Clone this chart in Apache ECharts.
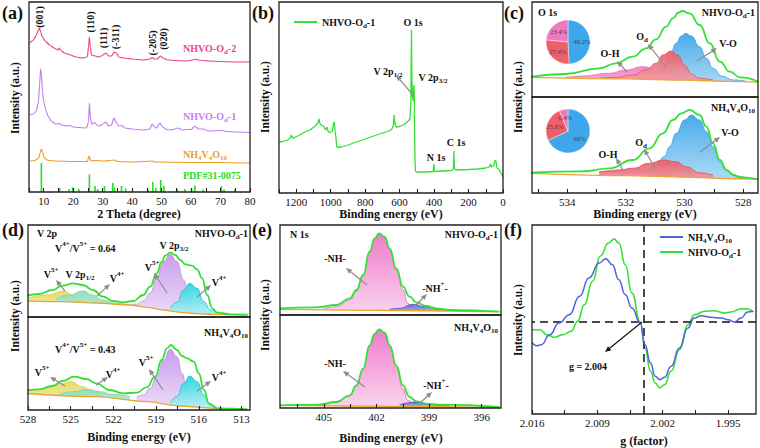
<!DOCTYPE html>
<html><head><meta charset="utf-8">
<script src="https://cdn.jsdelivr.net/npm/echarts@6/dist/echarts.min.js"></script>
<style>html,body{margin:0;padding:0;background:#fff}#c{width:760px;height:448px}</style>
</head><body><div id="c"></div>
<script>
// ---------------- (a) XRD ----------------
const xrdOd2 = [[5.3,149],[6.5,152],[7.5,157],[8.2,162],[8.5,164],[9.0,160],[9.5,155],[10.5,151],[12,147],[13.5,144],[14.8,142],[15.2,144],[15.6,142],[17,139],[19,137],[21,135],[23,134],[24.8,135],[25.3,148],[25.5,155],[25.8,145],[26.2,137],[27.5,136],[28.5,135],[29.5,136],[30.5,138],[31.2,139],[32,136],[33,136],[34,140],[34.6,139],[35.5,135],[37,134],[40,133],[44,132],[46,133],[46.8,134.5],[47.5,133],[48.5,133],[49.6,136],[50.5,134],[52,132],[55,131.5],[58,131],[60,131.5],[61.3,133],[62.5,132],[66,131],[70,130.5],[75,130],[80,130]];
const xrdOd1 = [[5.3,77],[6.5,78],[7.5,81],[8.2,90],[8.6,108],[8.95,123],[9.2,118],[9.6,100],[10,90],[10.8,81],[11.5,76],[12.5,71],[14,68],[15.3,68.5],[16,67],[18,66],[18.7,66.5],[20,65],[22,64.5],[24.5,64],[25.2,70],[25.5,89],[25.8,75],[26.3,68],[27.3,69.5],[28,67],[29,66],[30.5,69],[31.1,70],[32,66],[33,67],[33.8,74],[34.5,70],[35.5,66],[36.5,66.5],[37.5,64],[40,63],[44,62],[46,63],[46.8,68],[47.5,65],[48.3,64],[49.4,69],[50.3,65],[52,62],[54,62.5],[55.5,64],[57,62],[58.5,62.5],[60,62.5],[61.3,66],[62.5,63],[64,63],[66,61],[70.5,61.5],[72,60.5],[76,60],[80,59.5]];
const xrdNH4 = [[5.3,31],[7,31.5],[8.3,34],[8.9,40],[9.2,43],[9.6,40],[10.2,34],[11.5,31.5],[14,31],[20,30.5],[24.8,30.5],[25.4,36],[26,31],[27.5,31.5],[30.5,31],[33.8,32],[35,30.5],[40,30],[46.8,31],[48,30],[60,29.5],[70,29.5],[80,29]];
const pdfSticks = [[9.2,29],[15.4,4],[18.6,3],[19.8,4.5],[21.9,3],[25.5,17.5],[27.4,6],[28.3,3],[30.6,6],[33.4,9],[34,4.5],[36.4,6],[37.8,3.5],[45.4,2.5],[47,10],[48,4],[49.7,12],[50.8,6],[55.4,2.5],[57.9,3],[60.2,3],[61.3,6.5],[64.1,2.5],[70.3,6],[71.2,2.5],[74.9,2.5]];
const aLabels = [10,20,30,40,50,60,70,80];
const aTicks = [5,10,15,20,25,30,35,40,45,50,55,60,65,70,75,80];
// ---------------- (b) survey ----------------
const survey = [[1300,51],[1280,51.5],[1250,53],[1235,55],[1228,58],[1222,55],[1210,55.5],[1180,58],[1150,61],[1120,63],[1090,67],[1075,70],[1068,74],[1062,69],[1050,67.5],[1040,67],[1030,63],[1022,66],[1016,62],[1008,60.5],[1000,61],[990,62],[983,70],[979,71],[975,62],[970,56],[965,46],[960,45.5],[940,46],[900,48],[850,51],[800,54],[750,57],[700,60],[660,62],[645,64],[636,68],[632,78],[628,70],[620,66],[600,66.5],[580,68],[565,69.5],[550,72],[540,74],[535,90],[531,163],[529,120],[526,95],[524,105],[522,92],[519,100],[517,108],[515,98],[513,60],[511,35],[508,22],[500,21],[450,21],[405,21.5],[401,29],[398,21.5],[350,22],[300,22.5],[288,24],[285,42],[282,25],[275,23],[200,23.5],[150,24],[100,25],[80,26],[72,29],[68,26],[55,27],[45,33],[41,32],[35,25],[25,24],[15,21],[5,18],[0,16]];
const bLabels = [1200,1000,800,600,400,200,0];
const bTicks = [1300,1200,1100,1000,900,800,700,600,500,400,300,200,100,0];
// ---------------- (c) O 1s ----------------
const o1sTopEnv = [[535.23,20.3],[534.06,23],[532.91,28.7],[532.34,33.7],[531.77,40.3],[531.31,48.7],[530.97,57.7],[530.63,70.3],[530.4,78.7],[530.2,84.5],[530.08,86],[529.83,83.7],[529.49,72],[529.14,53.7],[528.8,35.3],[528.46,25.3],[528.11,19.7],[527.49,15.3]];
const o1sTopBg = [[535.23,19.7],[532,18.2],[530,16.8],[528.5,15.7],[527.49,15]];
const o1sTopVO = [[531.31,18.7],[531.09,21],[530.74,30.3],[530.51,40.3],[530.29,53.7],[530.11,61],[529.97,63.7],[529.77,61],[529.49,50.3],[529.26,38.7],[529.03,28.7],[528.74,21],[528.34,17],[527.89,15.7]];
const o1sTopOd = [[532.91,18.7],[532.34,19.7],[531.77,22],[531.31,27],[530.97,33.7],[530.74,42],[530.46,46],[530.23,42],[530.0,32],[529.77,23],[529.49,18.7],[529.03,17]];
const o1sTopOH = [[534.06,19.7],[533.49,21],[532.57,23.7],[532.0,27],[531.43,30.3],[530.97,28.7],[530.63,25.3],[530.29,21],[529.94,17.7]];
const o1sBotEnv = [[535.23,20.3],[533.49,21.7],[532.57,24.7],[531.77,33],[531.2,44.7],[530.74,59.7],[530.4,73],[530.11,79.7],[529.83,83],[529.49,78],[529.26,66.3],[529.03,49.7],[528.8,33],[528.57,23],[528.34,18],[528.11,15.7],[527.49,13.7]];
const o1sBotBg = [[535.23,19.7],[532,17.4],[530,15.8],[528.5,14.5],[527.49,13.7]];
const o1sBotVO = [[531.77,20.3],[531.31,23],[530.97,28],[530.69,36.3],[530.51,46.3],[530.29,59.7],[530.0,73],[529.77,78],[529.49,73],[529.26,61.3],[529.03,46.3],[528.8,31.3],[528.57,22.3],[528.23,17],[527.89,15.3]];
const o1sBotOd = [[532.91,21],[532.34,22],[531.77,24.7],[531.2,29.7],[530.74,33],[530.29,31.3],[529.94,26.3],[529.49,20.3],[529.03,17.7]];
const o1sBotOH = [[532.91,21.3],[531.77,23.7],[530.97,22.3],[530.4,19.7]];
const pieNames = ['V-O','Od','O-H'];
const pieTop = [49.2,27.4,23.4];
const pieBot = [68,25.6,6.4];
const cLabels = [534,532,530,528];
const cTicks = [535,534,533,532,531,530,529,528];
// ---------------- (d) V 2p ----------------
const v2pTopEnv = [[528.28,20.3],[527.22,23],[526.28,27],[525.57,31.3],[524.86,33.7],[524.15,32],[523.44,27],[522.73,20.3],[522.02,16],[521.31,14.7],[520.61,16],[519.9,22],[519.42,30.3],[518.95,43.7],[518.6,55.3],[518.36,61.3],[518.01,64.3],[517.65,62],[517.3,57],[516.94,52.7],[516.47,51.3],[516.12,47.7],[515.76,38.7],[515.41,22],[515.05,8.7],[514.7,4.3],[513.76,2.7],[512.57,2.3]];
const v2pTopBg = [[528.28,16],[525.57,15.3],[523.2,14],[520.84,12],[519.66,9.7],[518.48,7],[517.3,4.7],[516.12,3.3],[514.94,2.7],[512.57,2]];
const v2pTopV5a = [[520.84,11.3],[520.37,12.7],[519.9,16],[519.42,23.7],[518.95,38.7],[518.48,55.3],[518.01,62.7],[517.53,55.3],[517.06,37],[516.71,22],[516.35,12.7],[515.88,7],[515.41,4.7]];
const v2pTopV4a = [[518.01,8.7],[517.53,14.7],[517.06,27],[516.64,33.7],[516.12,28.7],[515.64,15.3],[515.17,7],[514.7,3.7]];
const v2pTopV5b = [[527.93,19.3],[526.75,22],[525.45,26],[524.86,22],[524.39,17],[523.68,14.3]];
const v2pTopV4b = [[526.04,18],[525.09,22],[524.15,26],[523.44,22],[522.73,17],[521.79,13.7],[520.84,12]];
const v2pBotEnv = [[528.28,19.3],[527.22,20.7],[526.28,24],[525.57,29],[524.74,33.3],[523.91,31],[523.2,26.7],[522.26,20],[521.31,16.7],[520.37,17.3],[519.66,22.7],[519.07,33.3],[518.6,50],[518.24,61.7],[517.96,65],[517.53,60],[517.18,54],[516.83,51.7],[516.35,48.3],[516.0,36.7],[515.64,20],[515.29,6.7],[514.7,1.7],[512.57,0.7]];
const v2pBotBg = [[528.28,16.7],[523.2,13.3],[519.66,8.3],[517.3,4],[514.94,1.7],[512.57,0.7]];
const v2pBotV5a = [[520.37,13.3],[519.9,15],[519.42,21.7],[518.95,33.3],[518.48,50],[518.01,60.7],[517.53,53.3],[517.18,36.7],[516.83,20],[516.35,10],[515.88,6]];
const v2pBotV4a = [[518.01,7.3],[517.53,13.3],[517.06,26.7],[516.64,34],[516.12,28.3],[515.64,15],[515.17,5],[514.7,1.7]];
const v2pBotV5b = [[528.17,18.3],[527.22,20.7],[526.04,25],[524.98,28.3],[524.15,23.3],[523.44,18.3],[522.73,15]];
const v2pBotV4b = [[525.8,16],[524.86,18.3],[523.8,20.7],[522.97,18.3],[522.02,15.7],[520.84,13.3]];
const dLabels = [528,525,522,519,516,513];
const dTicks = [528,526.5,525,523.5,522,520.5,519,517.5,516,514.5,513];
// ---------------- (e) N 1s ----------------
const n1sTopEnv = [[407.5,6.7],[405.42,7.7],[404.28,10],[403.52,16.7],[403.14,25],[402.76,40],[402.39,63.3],[402.1,76.7],[401.85,81.7],[401.53,78.3],[401.25,66.7],[400.87,46.7],[400.49,28.3],[400.11,18.3],[399.73,12.7],[399.16,9],[398.6,6.7],[397.84,5],[395.0,3.3]];
const n1sTopBg = [[407.5,5.7],[401,4.5],[395,3.3]];
const n1sTopNH = [[405.04,6],[404.28,8.3],[403.52,15],[403.14,24],[402.76,39],[402.39,62.5],[402.1,76],[401.85,81],[401.53,77.5],[401.25,66],[400.87,45],[400.49,25],[400.21,11.7],[399.92,6.7],[399.54,5]];
const n1sTopNHp = [[401.25,5.7],[400.68,6.7],[399.92,10.7],[399.16,8.3],[398.41,5.7],[397.46,4.3]];
const n1sBotEnv = [[407.5,2.7],[405.42,3.3],[404.28,6],[403.52,12.7],[403.14,22.7],[402.76,39.3],[402.39,62.7],[402.1,74.3],[401.85,78.7],[401.53,75.3],[401.25,62.7],[400.87,42.7],[400.49,22.7],[400.11,11],[399.73,6.7],[399.16,4.3],[398.41,3.3],[395,1]];
const n1sBotBg = [[407.5,2.7],[401,1.7],[395,0.7]];
const n1sBotNH = [[405.04,2.8],[404.28,5.7],[403.52,12.3],[403.14,22.3],[402.76,39],[402.39,62.3],[402.1,74],[401.85,78.3],[401.53,75],[401.25,62.3],[400.87,41],[400.49,19.3],[400.21,7.7],[399.83,4.3],[399.54,3.3]];
const n1sBotNHp = [[400.68,3.3],[399.73,6],[398.79,3.3],[397.84,2]];
const eLabels = [405,402,399,396];
const eTicks = [406.5,405,403.5,402,400.5,399,397.5,396];
// ---------------- (f) EPR ----------------
const eprNH4 = [[2.016,71.7],[2.0155,68.3],[2.015,69.3],[2.0141,79.3],[2.0131,91],[2.012,99.3],[2.0109,117.7],[2.0099,136],[2.0088,151],[2.0081,155.3],[2.0074,149.3],[2.0067,134.3],[2.006,119.3],[2.0053,106],[2.0044,91],[2.0039,69.3],[2.0033,51],[2.0028,37.7],[2.0023,34.3],[2.0018,36.7],[2.0011,47.7],[2.0002,66],[1.9993,86],[1.9986,96],[1.9979,98.3],[1.9968,96.7],[1.9957,96],[1.995,94.3],[1.9943,92],[1.9936,96],[1.9929,102],[1.9923,102.7]];
const eprOd1 = [[2.016,84.3],[2.0152,84.3],[2.0143,78.7],[2.0136,76.7],[2.0127,79.3],[2.0118,82.7],[2.0111,92.7],[2.0104,109.3],[2.0095,132.7],[2.0087,157.7],[2.0078,171],[2.0072,175],[2.0067,171],[2.006,149.3],[2.0053,121],[2.0044,92],[2.0039,66],[2.0033,42.7],[2.0028,31],[2.0023,26],[2.0018,29.3],[2.0011,42.7],[2.0002,64.3],[1.9993,89.3],[1.9986,99.3],[1.9975,102.7],[1.9965,103.3],[1.9954,101],[1.9947,102],[1.9936,105.3],[1.9929,105],[1.9923,102]];
const gFactorMark = 2.004;
const zeroLevel = 92;
const fLabels = [2.016,2.009,2.002,1.995];
const fTicks = [2.016,2.0125,2.009,2.0055,2.002,1.9985,1.995];

// ---------------- build ----------------
const FONT = 'Liberation Serif';
const chart = echarts.init(document.getElementById('c'), null, {renderer:'svg'});
function grad(c1,c2){return new echarts.graphic.LinearGradient(0,0,0,1,[{offset:0,color:c1},{offset:1,color:c2}]);}

const grids = [
  {left:29,top:2,width:221,height:190},
  {left:279,top:2,width:224,height:191},
  {left:532,top:2,width:226,height:95},
  {left:532,top:97,width:226,height:96},
  {left:28,top:225,width:222,height:92},
  {left:28,top:317,width:222,height:93},
  {left:280,top:225,width:221,height:90},
  {left:280,top:315,width:221,height:93},
  {left:532,top:225,width:224,height:189}
].map(g=>Object.assign(g,{show:true,borderColor:'#222',borderWidth:1.3,backgroundColor:'rgba(0,0,0,0)',z:10,containLabel:false,outerBoundsMode:'none'}));
const yMax = [190,191,95,96,92,93,90,93,189];

function mkX(gi,min,max,inverse,labels,ticks,showLabels,fmt){
  return {type:'value',gridIndex:gi,min,max,inverse,z:10,splitLine:{show:false},axisLine:{show:false},
    axisTick:{show:!!ticks,inside:true,length:4,lineStyle:{color:'#222',width:1.1},customValues:ticks||undefined},
    axisLabel:{show:showLabels,customValues:labels,formatter:fmt||(v=>String(v)),fontFamily:FONT,fontSize:11,color:'#111',margin:3}};
}
const xAxes = [
  mkX(0,5,80,false,aLabels,aTicks,true),
  mkX(1,0,1300,true,bLabels,bTicks,true),
  mkX(2,527.5,535.2,true,cLabels,null,false),
  mkX(3,527.5,535.2,true,cLabels,cTicks,true),
  mkX(4,512.4,528,true,dLabels,null,false),
  mkX(5,512.4,528,true,dLabels,dTicks,true),
  mkX(6,394.9,407.5,true,eLabels,null,false),
  mkX(7,394.9,407.5,true,eLabels,eTicks,true),
  mkX(8,1.992,2.016,true,fLabels,fTicks,true,v=>v.toFixed(3))
];
const yAxes = yMax.map((m,i)=>({type:'value',gridIndex:i,min:0,max:m,show:false}));

const S = [];
function line(gi,data,color,width,z,smooth,name,extra){
  S.push(Object.assign({type:'line',name,xAxisIndex:gi,yAxisIndex:gi,data,symbol:'none',showSymbol:false,
    smooth:smooth,smoothMonotone:'x',lineStyle:{color,width},itemStyle:{color},z,silent:true,animation:false},extra||{}));
}
function area(gi,data,lc,c1,c2,z){
  S.push({type:'line',xAxisIndex:gi,yAxisIndex:gi,data,symbol:'none',showSymbol:false,smooth:0.5,smoothMonotone:'x',
    lineStyle:{color:lc,width:0.8},areaStyle:{color:grad(c1,c2),opacity:0.92,origin:'start'},z,silent:true,animation:false});
}
function mask(gi,data){
  S.push({type:'line',xAxisIndex:gi,yAxisIndex:gi,data,symbol:'none',showSymbol:false,smooth:0.3,smoothMonotone:'x',
    lineStyle:{color:'#eaa535',width:1.3},areaStyle:{color:'#ffffff',opacity:1,origin:'start'},z:6,silent:true,animation:false});
}
const GREEN = '#35e035';
// (a)
line(0,xrdOd2,'#e8448f',1.2,3,0.2);
line(0,xrdOd1,'#c27ff0',1.2,3,0.2);
line(0,xrdNH4,'#e8a024',1.2,3,0.2);
S.push({type:'bar',xAxisIndex:0,yAxisIndex:0,data:pdfSticks,barWidth:1.6,itemStyle:{color:'#22dd22'},z:3,silent:true,animation:false});
// (b)
line(1,survey,GREEN,1.3,3,false,'NHVO-Od-1 (b)');
// (c)
area(2,o1sTopVO,'#3a9ee0','#38a4ea','#bfe3f7',3);
area(2,o1sTopOH,'#ec6fb7','#f07cc2','#f8cde6',4);
area(2,o1sTopOd,'#e5525f','#ea5a66','#f6c3c6',5);
mask(2,o1sTopBg);
line(2,o1sTopEnv,GREEN,1.8,7,0.5);
area(3,o1sBotVO,'#3a9ee0','#38a4ea','#bfe3f7',3);
area(3,o1sBotOH,'#ec6fb7','#f07cc2','#f8cde6',4);
area(3,o1sBotOd,'#e5525f','#ea5a66','#f6c3c6',5);
mask(3,o1sBotBg);
line(3,o1sBotEnv,GREEN,1.8,7,0.5);
// (d)
area(4,v2pTopV5b,'#e0cf55','#e8d860','#f4ecb8',3);
area(4,v2pTopV4b,'#7fd3aa','#86dcb5','#d4f1e3',4);
area(4,v2pTopV5a,'#bb8fe3','#c596ea','#eadcf8',3);
area(4,v2pTopV4a,'#18c8d4','#1fd3de','#bdf1f4',4);
mask(4,v2pTopBg);
line(4,v2pTopEnv,GREEN,1.8,7,0.5);
area(5,v2pBotV5b,'#e0cf55','#e8d860','#f4ecb8',3);
area(5,v2pBotV4b,'#7fd3aa','#86dcb5','#d4f1e3',4);
area(5,v2pBotV5a,'#bb8fe3','#c596ea','#eadcf8',3);
area(5,v2pBotV4a,'#18c8d4','#1fd3de','#bdf1f4',4);
mask(5,v2pBotBg);
line(5,v2pBotEnv,GREEN,1.8,7,0.5);
// (e)
area(6,n1sTopNH,'#ea66c0','#ef70c8','#f9d2ec',3);
area(6,n1sTopNHp,'#4c5cc4','#5565cc','#c8cdf0',4);
mask(6,n1sTopBg);
line(6,n1sTopEnv,GREEN,1.8,7,0.5);
area(7,n1sBotNH,'#ea66c0','#ef70c8','#f9d2ec',3);
area(7,n1sBotNHp,'#4c5cc4','#5565cc','#c8cdf0',4);
mask(7,n1sBotBg);
line(7,n1sBotEnv,GREEN,1.8,7,0.5);
// (f)
line(8,eprOd1,GREEN,1.6,4,0.5,'NHVO-Od-1');
line(8,eprNH4,'#4f63dc',1.5,5,0.5,'NH4V4O10',{markLine:{silent:true,symbol:'none',animation:false,precision:4,label:{show:false},
  lineStyle:{color:'#111',type:[8,5],width:1.5},data:[{xAxis:gFactorMark},{yAxis:zeroLevel}]}});
// pies
const pieColors = ['#3ea6ea','#ee5f6a','#f07ac2'];
function pie(center,vals){
  S.push({type:'pie',center,radius:22,startAngle:90,clockwise:true,z:12,silent:true,animation:false,
    label:{show:true,position:'inside',formatter:'{c}%',fontSize:6.5,color:'#444',fontFamily:FONT},labelLine:{show:false},
    itemStyle:{borderColor:'#fff',borderWidth:0.4},
    data:vals.map((v,i)=>({value:v,name:pieNames[i],itemStyle:{color:pieColors[i]}}))});
}
pie([568,42],pieTop);
pie([568,131],pieBot);

// ---------------- annotations ----------------
function rt(str,size,color,weight){
  const txt = str.replace(/([_^])\{([^}]*)\}|([^_^]+)/g,(m,t,inner,plain)=> plain!==undefined?'{n|'+plain+'}':(t==='_'?'{s|'+inner+'}':'{u|'+inner+'}'));
  const b = {fontFamily:FONT,fontWeight:weight||'bold',fill:color};
  const sm = Math.round(size*0.68);
  return {text:txt,rich:{
    n:Object.assign({fontSize:size,lineHeight:size+5},b),
    s:Object.assign({fontSize:sm,verticalAlign:'bottom'},b),
    u:Object.assign({fontSize:sm,verticalAlign:'top'},b)}};
}
const G = [];
function T(x,y,str,o){o=o||{};
  const r = rt(str,o.size||10,o.color||'#111',o.weight);
  G.push({type:'text',x,y,rotation:o.rot||0,z:100,silent:true,style:Object.assign(r,{align:o.align||'center',verticalAlign:'middle'})});
}
function A(x1,y1,x2,y2,color){color=color||'#8c8c8c';
  const a=Math.atan2(y2-y1,x2-x1),L=6,W=2.6,bx=x2-L*Math.cos(a),by=y2-L*Math.sin(a),px=-Math.sin(a),py=Math.cos(a);
  G.push({type:'line',z:100,silent:true,shape:{x1,y1,x2:bx,y2:by},style:{stroke:color,lineWidth:1.2}});
  G.push({type:'polygon',z:100,silent:true,shape:{points:[[x2,y2],[bx+W*px,by+W*py],[bx-W*px,by-W*py]]},style:{fill:color}});
}
const R = Math.PI/2;
// panel letters
[['(a)',2,13],['(b)',252,13],['(c)',504,13],['(d)',2,230],['(e)',252,230],['(f)',504,230]].forEach(p=>T(p[1],p[2],p[0],{size:18,align:'left'}));
// axis titles
T(139,214,'2 Theta (degree)',{size:12});
T(391,214,'Binding energy (eV)',{size:12});
T(645,214,'Binding energy (eV)',{size:12});
T(139,437,'Binding energy (eV)',{size:12});
T(391,438,'Binding energy (eV)',{size:12});
T(644,441,'g (factor)',{size:12});
[[15,98],[265,97],[518,97],[15,316],[265,315],[518,320]].forEach(p=>T(p[0],p[1],'Intensity (a.u.)',{size:11.5,rot:R}));
// (a)
T(39,17,'(001)',{rot:R});T(90,22,'(110)',{rot:R});T(103,38,'(111)',{rot:R});T(115,37,'(-311)',{rot:R});
T(152,43,'(-205)',{rot:R});T(163,39,'(020)',{rot:R});
T(183,48,'NHVO-O_{d}-2',{align:'left',color:'#e8448f'});
T(183,116,'NHVO-O_{d}-1',{align:'left',color:'#c27ff0'});
T(183,154,'NH_{4}V_{4}O_{10}',{align:'left',color:'#e8a024'});
T(183,175,'PDF#31-0075',{align:'left',color:'#22dd22'});
// (b)
T(413,22,'O 1s');T(388,71,'V 2p_{1/2}');T(433,77,'V 2p_{3/2}');T(436,157,'N 1s');T(456,142,'C 1s');
A(413,95,396,75);
// (c)
T(538,12,'O 1s',{align:'left'});T(755,12,'NHVO-O_{d}-1',{align:'right'});
T(642,36,'O_{d}');T(610,53,'O-H');T(728,43,'V-O');
A(666,67,648,44);A(627,72,617,61);A(697,61,717,48);
T(755,107,'NH_{4}V_{4}O_{10}',{align:'right'});
T(730,132,'V-O');T(641,142,'O_{d}');T(608,154,'O-H');
A(700,152,720,137);A(655,168,644,149);A(623,170,616,158);
// (d)
T(37,233,'V 2p',{align:'left'});T(248,233,'NHVO-O_{d}-1',{align:'right'});
T(55,248,'V^{4+}/V^{5+} = 0.64',{align:'left'});
T(174,245,'V 2p_{3/2}');T(51,274,'V^{5+}');T(80,274,'V 2p_{1/2}');T(117,278,'V^{4+}');T(152,267,'V^{5+}');T(219,282,'V^{4+}');
A(65,291,56,280);A(97,296,110,284);A(167,293,154,273);A(197,297,211,285);
T(248,332,'NH_{4}V_{4}O_{10}',{align:'right'});
T(55,349,'V^{4+}/V^{5+} = 0.43',{align:'left'});
T(42,372,'V^{5+}');T(113,374,'V^{4+}');T(146,362,'V^{5+}');T(219,377,'V^{4+}');
A(65,386,50,377);A(96,385,108,377);A(163,390,149,369);A(197,391,211,381);
// (e)
T(290,234,'N 1s',{align:'left'});T(498,234,'NHVO-O_{d}-1',{align:'right'});
T(335,258,'-NH-');T(435,288,'-NH^{+}-');
A(367,285,346,268);A(415,306,427,294);
T(498,327,'NH_{4}V_{4}O_{10}',{align:'right'});
T(335,363,'-NH-');T(436,385,'-NH^{+}-');
A(365,387,343,371);A(420,403,432,392);
// (f)
T(588,366,'g = 2.004');
A(642,322,605,352,'#111');

const legendText = {'NHVO-Od-1 (b)':'NHVO-O{s|d}-1','NH4V4O10':'NH{s|4}V{s|4}O{s|10}','NHVO-Od-1':'NHVO-O{s|d}-1'};
const legStyle = {fontFamily:FONT,fontWeight:'bold',fontSize:10,color:'#111',lineHeight:14,
  rich:{s:{fontFamily:FONT,fontWeight:'bold',fontSize:7,color:'#111',verticalAlign:'bottom'}}};
chart.setOption({
  animation:false,
  backgroundColor:'#fff',
  textStyle:{fontFamily:FONT},
  grid:grids, xAxis:xAxes, yAxis:yAxes, series:S,
  legend:[
    {left:289,top:10,itemWidth:23,itemHeight:2,icon:'rect',selectedMode:false,data:['NHVO-Od-1 (b)'],textStyle:legStyle,formatter:n=>legendText[n]},
    {left:655,top:225,orient:'vertical',itemGap:1,itemWidth:23,itemHeight:2,icon:'rect',selectedMode:false,data:['NH4V4O10','NHVO-Od-1'],textStyle:legStyle,formatter:n=>legendText[n]}
  ],
  graphic:{elements:G}
});
</script></body></html>
